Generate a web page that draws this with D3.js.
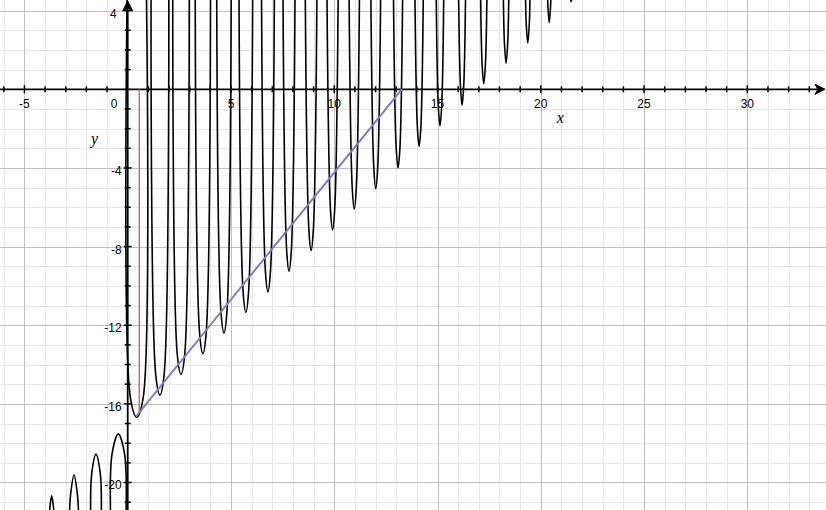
<!DOCTYPE html>
<html><head><meta charset="utf-8">
<script src="https://cdn.jsdelivr.net/npm/d3@7"></script>
<style>html,body{margin:0;padding:0;background:#fff;overflow:hidden}</style>
</head><body>
<script>
// ---- data ----
// dips of the curve for x > 0
const dipX = [0.44, 1.56, 2.58, 3.64, 4.66, 5.72, 6.79, 7.81, 8.88, 9.92, 10.97, 12.01, 13.09, 14.11, 15.12, 16.19, 17.24, 18.32, 19.37, 20.41, 21.47];
const dipY = [-16.68, -15.55, -14.5, -13.45, -12.4, -11.35, -10.3, -9.25, -8.2, -7.15, -6.1, -5.05, -4.0, -2.9, -1.85, -0.8, 0.27, 1.33, 2.35, 3.39, 4.45];
// half width where each dip leaves the top edge
const dipHalfWidthTop = [0.47, 0.43, 0.40, 0.37, 0.35, 0.33, 0.31, 0.29, 0.28, 0.27, 0.25, 0.235, 0.22, 0.20, 0.18, 0.165, 0.15, 0.13, 0.105, 0.075, 0.02];
// half width one unit above each minimum
const dipHalfWidthLow = [0.31, 0.20, 0.18, 0.155, 0.14, 0.13, 0.12, 0.11, 0.105, 0.10, 0.095, 0.092, 0.09, 0.085, 0.082, 0.08, 0.08, 0.078, 0.075, 0.072, 0];
// arches of the curve for x < 0
const bumpX = [-0.455, -1.535, -2.6, -3.68];
const bumpY = [-17.53, -18.57, -19.62, -20.67];
const bumpHalfWidthBottom = [0.38, 0.26, 0.215, 0.1];
const bumpHalfWidthLow = [0.30, 0.21, 0.165, 0];
// straight segments
const tangentLine = [[0.42, -16.62], [13.27, 0]];
const redSegment = [[0.56, 0], [0.56, -16.5]];
// axis labels
const xTickLabels = [-5, 5, 10, 15, 20, 25, 30];
const yTickLabels = [4, -4, -8, -12, -16, -20];
const axisNames = ["x", "y"];

// ---- drawing ----
const W = 826, H = 510;
const x = d3.scaleLinear().domain([-6.183, 33.81]).range([0, W]);
const y = d3.scaleLinear().domain([-21.399, 4.542]).range([H, 0]);
const [yBottom, yTop] = y.domain();

const svg = d3.select("body").append("svg").attr("width", W).attr("height", H)
  .style("display", "block").style("background", "#fff");

svg.append("defs").append("clipPath").attr("id", "plot")
  .append("rect").attr("x", 0).attr("y", 0).attr("width", W).attr("height", H);

// grid
const grid = svg.append("g").attr("shape-rendering", "crispEdges");
const xs = d3.range(Math.ceil(x.domain()[0]), Math.floor(x.domain()[1]) + 1);
const ys = d3.range(Math.ceil(yBottom), Math.floor(yTop) + 1);
function vlines(data, color) {
  grid.append("g").selectAll("line").data(data).join("line")
    .attr("x1", d => Math.round(x(d)) + 0.5).attr("x2", d => Math.round(x(d)) + 0.5)
    .attr("y1", 0).attr("y2", H).attr("stroke", color).attr("stroke-width", 1);
}
function hlines(data, color) {
  grid.append("g").selectAll("line").data(data).join("line")
    .attr("y1", d => Math.round(y(d)) + 0.5).attr("y2", d => Math.round(y(d)) + 0.5)
    .attr("x1", 0).attr("x2", W).attr("stroke", color).attr("stroke-width", 1);
}
vlines(xs.filter(d => d % 5 !== 0), "#e6e6e6");
hlines(ys.filter(d => d % 4 !== 0), "#e6e6e6");
vlines(xs.filter(d => d % 5 === 0 && d !== 0), "#c0c0c0");
hlines(ys.filter(d => d % 4 === 0 && d !== 0), "#c0c0c0");

// axes
const ax = svg.append("g").attr("stroke", "#000");
const x0 = x(0), y0 = y(0);
ax.append("line").attr("x1", 0).attr("x2", W - 3).attr("y1", y0).attr("y2", y0).attr("stroke-width", 1.8);
ax.append("line").attr("x1", x0).attr("x2", x0).attr("y1", H).attr("y2", 3).attr("stroke-width", 1.8);
svg.append("path").attr("d", `M${W - 1},${y0} L${W - 11},${y0 - 5} L${W - 8},${y0} L${W - 11},${y0 + 5} Z`)
  .attr("fill", "#000").attr("stroke", "#000").attr("stroke-width", 1);
svg.append("path").attr("d", `M${x0},1 L${x0 - 5},11 L${x0},8 L${x0 + 5},11 Z`)
  .attr("fill", "#000").attr("stroke", "#000").attr("stroke-width", 1);
ax.selectAll("line.xt").data(xs.filter(d => d !== 0 && x(d) < W - 10)).join("line")
  .attr("x1", d => x(d)).attr("x2", d => x(d))
  .attr("y1", d => y0 - (d % 5 === 0 ? 4 : 3)).attr("y2", d => y0 + (d % 5 === 0 ? 4 : 3)).attr("stroke-width", 1.5);
ax.selectAll("line.yt").data(ys.filter(d => d !== 0 && y(d) > 10)).join("line")
  .attr("y1", d => y(d)).attr("y2", d => y(d))
  .attr("x1", d => x0 - (d % 4 === 0 ? 4 : 3)).attr("x2", d => x0 + (d % 4 === 0 ? 4 : 3)).attr("stroke-width", 1.5);

// tick labels
const lab = svg.append("g").attr("font-family", "'Liberation Sans', Arial, Helvetica, sans-serif")
  .attr("font-size", 12).attr("fill", "#000");
lab.selectAll("text.xl").data(xTickLabels).join("text")
  .attr("x", d => x(d)).attr("y", y0 + 19).attr("text-anchor", "middle").text(d => d);
lab.append("text").attr("x", x0 - 13.5).attr("y", y0 + 19).attr("text-anchor", "middle").text("0");
lab.selectAll("text.yl").data(yTickLabels).join("text")
  .attr("x", d => d > 0 ? x0 - 11 : x0 - 6).attr("y", d => y(d) + 7).attr("text-anchor", "end").text(d => d);

// axis names
const nm = svg.append("g").attr("font-family", "'Liberation Serif', 'Times New Roman', serif")
  .attr("font-style", "italic").attr("font-size", 16).attr("fill", "#000");
nm.append("text").attr("x", x(20.95)).attr("y", y0 + 34).attr("text-anchor", "middle").text(axisNames[0]);
nm.append("text").attr("x", x(-1.6)).attr("y", y0 + 55).attr("text-anchor", "middle").text(axisNames[1]);

// red segment (drawn under the curve)
const line = d3.line().x(d => x(d[0])).y(d => y(d[1]));
svg.append("path").attr("d", line(redSegment)).attr("stroke", "#e06a6a").attr("stroke-width", 1.5).attr("fill", "none");

// curve: each dip / arch drawn through its read points
const curve = svg.append("g").attr("clip-path", "url(#plot)").attr("fill", "none")
  .attr("stroke", "#000").attr("stroke-width", 1.6);
const smooth = d3.line().x(d => x(d[0])).y(d => y(d[1])).curve(d3.curveCatmullRom.alpha(0.5));
function archPoints(xc, ye, hwEdge, hwLow, edge, dir) {
  const pts = [[xc - hwEdge, edge]];
  const lvl = ye + dir;
  const inside = dir > 0 ? lvl < edge : lvl > edge;
  if (inside && hwLow > 0) pts.push([xc - hwLow, lvl]);
  pts.push([xc, ye]);
  if (inside && hwLow > 0) pts.push([xc + hwLow, lvl]);
  pts.push([xc + hwEdge, edge]);
  return pts;
}
curve.selectAll("path.dip").data(dipX.map((d, i) => i)).join("path")
  .attr("d", i => smooth(archPoints(dipX[i], dipY[i], dipHalfWidthTop[i], dipHalfWidthLow[i], yTop, 1)));
curve.selectAll("path.bump").data(bumpX.map((d, i) => i)).join("path")
  .attr("d", i => smooth(archPoints(bumpX[i], bumpY[i], bumpHalfWidthBottom[i], bumpHalfWidthLow[i], yBottom, -1)));

// tangent line
svg.append("path").attr("d", line(tangentLine)).attr("stroke", "#7b7fbf").attr("stroke-width", 2).attr("fill", "none");
</script>
</body></html>
